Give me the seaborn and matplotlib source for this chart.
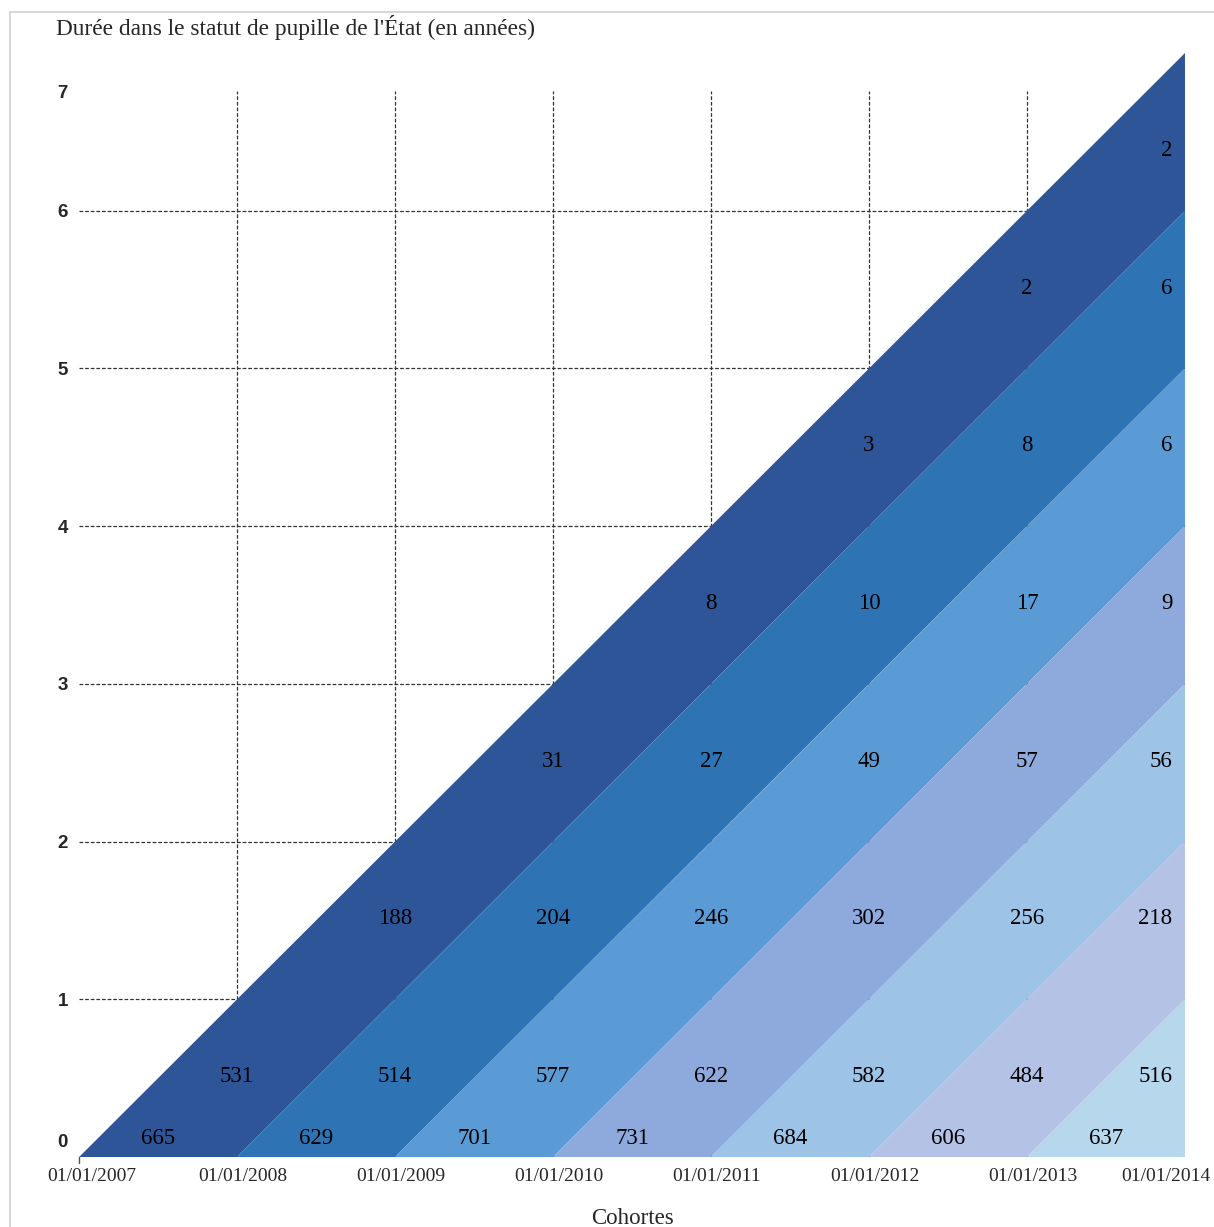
import numpy as np
import pandas as pd
import seaborn as sns
import matplotlib
matplotlib.use("Agg")
import matplotlib.pyplot as plt
from matplotlib.lines import Line2D
from matplotlib.transforms import ScaledTranslation

# ---- data ----
cohortes = ["01/01/2007", "01/01/2008", "01/01/2009", "01/01/2010",
            "01/01/2011", "01/01/2012", "01/01/2013", "01/01/2014"]
couleurs = ["#2E5597", "#2E74B5", "#5B9BD5", "#8EA9DB",
            "#9DC3E6", "#B4C2E6", "#B6D7EC"]
entrees = [665, 629, 701, 731, 684, 606, 637]          # row at duration 0
duree_1 = [531, 514, 577, 622, 582, 484, 516]
duree_2 = [188, 204, 246, 302, 256, 218]
duree_3 = [31, 27, 49, 57, 56]
duree_4 = [8, 10, 17, 9]
duree_5 = [3, 8, 6]
duree_6 = [2, 6]
duree_7 = [2]
rangees = [duree_1, duree_2, duree_3, duree_4, duree_5, duree_6, duree_7]
y_ticks = [0, 1, 2, 3, 4, 5, 6, 7]

sns.set_theme(style="white")
plt.rcParams["font.family"] = ["Liberation Serif", "DejaVu Serif"]

fig = plt.figure(figsize=(12.14, 12.27), dpi=100)
ax = fig.add_axes([0.0651, 0.0570, 0.9110, 0.8998])
n = len(cohortes) - 1
ax.set_xlim(0, n)
ax.set_ylim(0, n)

# grid (drawn below bands)
for k in range(1, n):
    ax.hlines(k, 0, n, colors="#333333", linestyles=(0, (3, 1.5)), linewidth=0.9, zorder=1)
    ax.vlines(k, 0, 6.76, colors="#333333", linestyles=(0, (3, 1.5)), linewidth=0.9, zorder=1)

# Lexis bands per cohort
for i, c in enumerate(couleurs):
    xs = [i, i + 1, n, n]
    ys = [0, 0, n - 1 - i, n - i]
    ax.fill(xs, ys, color=c, lw=0, zorder=2)

lab_kw = dict(fontsize=16.5, color="black", zorder=3, va="center")
for i, v in enumerate(entrees):
    ax.text(i + 0.5, 0.12, str(v), ha="center", **lab_kw)
for r, row in enumerate(rangees, start=1):
    for j, v in enumerate(row):
        x = r + j
        yy = r - 0.49 if r < 7 else 6.38
        if x >= n:
            ax.text(n - 0.08, yy, str(v), ha="right", **lab_kw)
        else:
            ax.text(x, yy, str(v), ha="center", **lab_kw)

ax.set_xticks(range(len(cohortes)))
ax.set_xticklabels(cohortes, fontsize=14, family=["Liberation Serif"])
ax.set_yticks(y_ticks)
ax.set_yticklabels([str(t) for t in y_ticks], fontsize=13.5, fontweight="bold",
                   family=["Liberation Sans", "DejaVu Sans"])
ax.tick_params(axis="x", length=0, pad=8)
ax.tick_params(axis="y", length=0, pad=8)
for s in ax.spines.values():
    s.set_visible(False)
ax.grid(False)
# small tick mark at origin
ax.plot([0, 0], [0, -0.04], color="#555555", lw=1, clip_on=False, zorder=3)

# nudge tick labels as in the reference
xoffs = [13] + [6] * (len(cohortes) - 2) + [-19]
for lab, dx in zip(ax.get_xticklabels(), xoffs):
    lab.set_transform(lab.get_transform() + ScaledTranslation(dx / 100, 0, fig.dpi_scale_trans))
ylabs = ax.get_yticklabels()
ylabs[0].set_transform(ylabs[0].get_transform() + ScaledTranslation(0, 17 / 100, fig.dpi_scale_trans))
ylabs[-1].set_transform(ylabs[-1].get_transform() + ScaledTranslation(0, -38 / 100, fig.dpi_scale_trans))

fig.text(56 / 1214, 1 - 28 / 1227, "Durée dans le statut de pupille de l'État (en années)",
         fontsize=16.8, ha="left", va="center")
fig.text(632 / 1214, 1 - 1218 / 1227, "Cohortes", fontsize=16.5, ha="center", va="center")

# light frame
fig.add_artist(Line2D([10 / 1214, 1.0], [1 - 12 / 1227, 1 - 12 / 1227], color="#D0D0D0", lw=1.2,
                      transform=fig.transFigure))
fig.add_artist(Line2D([10 / 1214, 10 / 1214], [0, 1 - 12 / 1227], color="#D0D0D0", lw=1.2,
                      transform=fig.transFigure))

fig.savefig("out.png", dpi=100)
